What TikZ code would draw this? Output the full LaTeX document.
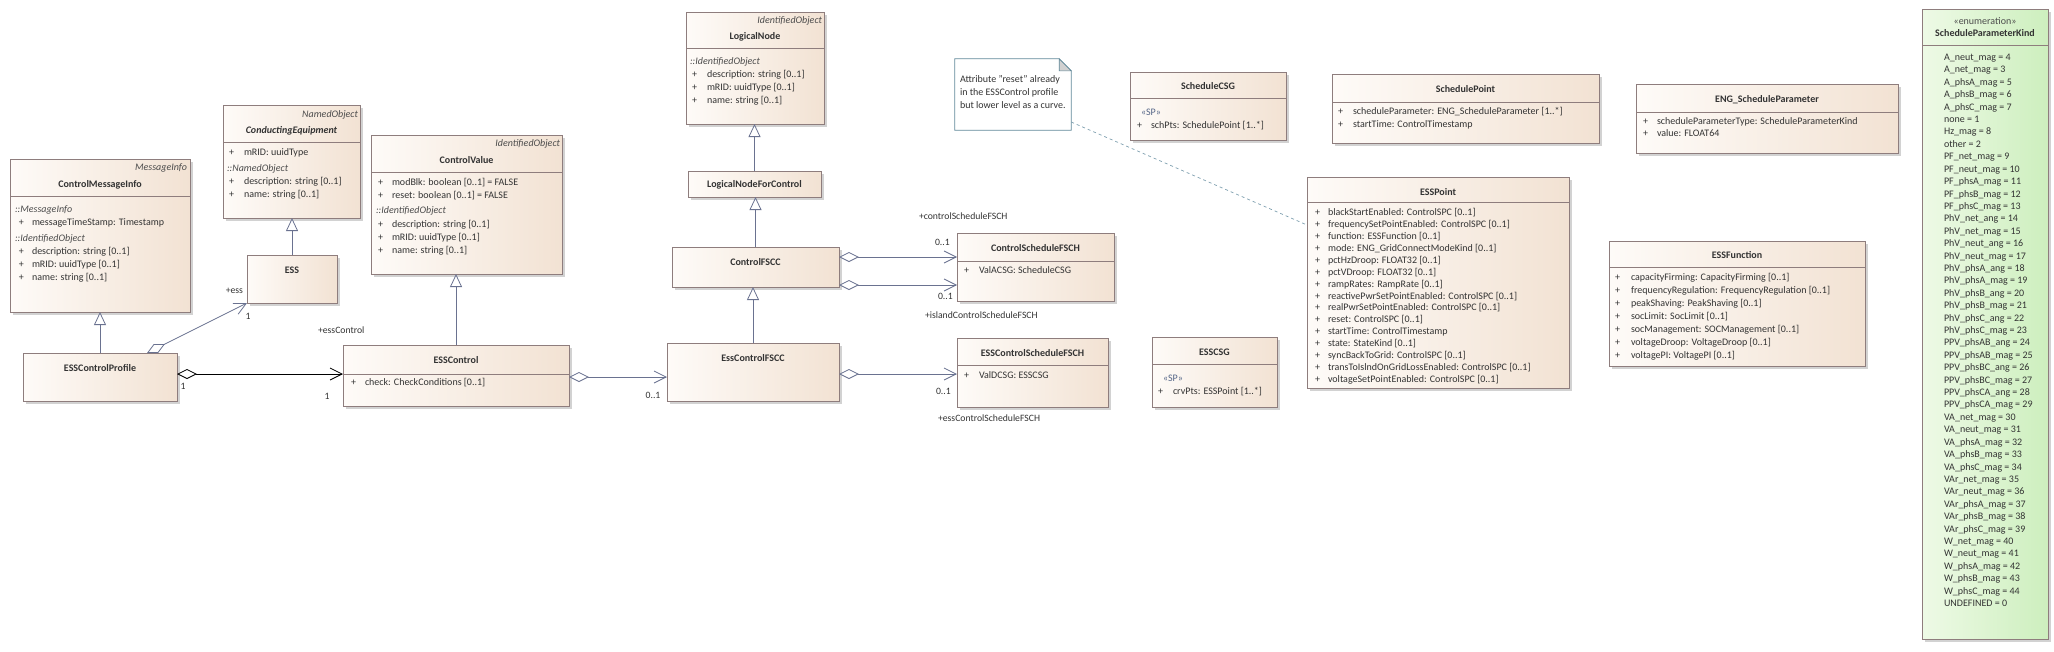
\documentclass[tikz,border=0pt]{standalone}
\usepackage{fontspec}
\setmainfont{Carlito}
\usetikzlibrary{arrows.meta,calc}
\definecolor{boxL}{HTML}{FEFBF8}
\definecolor{boxR}{HTML}{F2E2D3}
\definecolor{boxB}{HTML}{8E7D7D}
\definecolor{shad}{HTML}{D2D2D2}
\definecolor{enL}{HTML}{EEFAE6}
\definecolor{enR}{HTML}{CDEFBE}
\definecolor{txt}{HTML}{333333}
\definecolor{conn}{HTML}{6A7290}
\definecolor{noteB}{HTML}{62899A}
\definecolor{stc}{HTML}{556688}
\definecolor{dashc}{HTML}{7FA0B0}
\tikzset{
  clsbox/.style={rectangle, draw=boxB, line width=0.8pt, left color=boxL, right color=boxR, inner sep=0pt, outer sep=0pt},
  enumbox/.style={clsbox, left color=enL, right color=enR},
  tx/.style={inner sep=0pt, outer sep=0pt, font=\fontsize{10}{12}\selectfont, text=txt, text height=7pt, text depth=2pt},
  itx/.style={font=\fontsize{10}{12}\selectfont\itshape, text=black!70},
  nm/.style={font=\fontsize{10}{12}\selectfont\bfseries, anchor=center},
  lbl/.style={font=\fontsize{9.7}{12}\selectfont},
  gen/.style={draw=conn, line width=0.8pt, -{Triangle[open, length=13pt, width=12pt, fill=white]}},
  agg/.style={draw=conn, line width=0.8pt, {Diamond[open, length=20pt, width=10pt, fill=white]}-{Straight Barb[length=12pt, width=12pt]}},
  blk/.style={draw=black},
}
\newcounter{tn}
\newcommand\T[4][]{\stepcounter{tn}\node[tx,anchor=west,#1] (t\arabic{tn}) at (#2,#3) {#4};}
\newcommand\A[4]{\T{#1}{#3}{+}\T{#2}{#3}{#4}}
\newcommand\mkcls[6][clsbox]{%
  \fill[shad] (#3+3,#4+3) rectangle (#5+3,#6+3);
  \pgfmathsetmacro\cx{(#3+#5)/2}\pgfmathsetmacro\cy{(#4+#6)/2}%
  \pgfmathsetmacro\cw{#5-#3}\pgfmathsetmacro\ch{#6-#4}%
  \node[#1, minimum width=\cw pt, minimum height=\ch pt] (#2) at (\cx,\cy) {};}
\newcommand\sepl[3]{\draw[boxB, line width=0.8pt] (#1,#3) -- (#2,#3);}
\begin{document}
\begin{tikzpicture}[x=1pt,y=-1pt]
\useasboundingbox[fill=white] (0,0) rectangle (2054,651);

% ---------- ControlMessageInfo
\mkcls{cmi}{10}{159}{190}{312}
\sepl{10}{190}{196}
\T[anchor=east,itx]{187}{168}{MessageInfo}
\T[nm]{100}{185}{ControlMessageInfo}
\T[itx]{15}{210}{::MessageInfo}
\A{19}{32}{223}{messageTimeStamp: Timestamp}
\T[itx]{15}{239}{::IdentifiedObject}
\A{19}{32}{252}{description: string [0..1]}
\A{19}{32}{265}{mRID: uuidType [0..1]}
\A{19}{32}{278}{name: string [0..1]}

% ---------- ESSControlProfile
\mkcls{ecp}{23}{353}{177}{401}
\T[nm]{100}{369}{ESSControlProfile}

% ---------- ESS
\mkcls{ess}{247}{255}{337}{303}
\T[nm]{292}{271}{ESS}

% ---------- ConductingEquipment
\mkcls{ce}{223}{105}{360}{218}
\sepl{223}{360}{142}
\T[anchor=east,itx]{358}{115}{NamedObject}
\T[nm,font=\fontsize{10}{12}\selectfont\bfseries\itshape]{291.5}{131}{ConductingEquipment}
\A{229}{244}{153}{mRID: uuidType}
\T[itx]{227}{169}{::NamedObject}
\A{229}{244}{182}{description: string [0..1]}
\A{229}{244}{195}{name: string [0..1]}

% ---------- ControlValue
\mkcls{cv}{371}{135}{562}{274}
\sepl{371}{562}{172}
\T[anchor=east,itx]{560}{144}{IdentifiedObject}
\T[nm]{466.5}{161}{ControlValue}
\A{378}{392}{183}{modBlk: boolean [0..1] = FALSE}
\A{378}{392}{196}{reset: boolean [0..1] = FALSE}
\T[itx]{376}{211}{::IdentifiedObject}
\A{378}{392}{225}{description: string [0..1]}
\A{378}{392}{238}{mRID: uuidType [0..1]}
\A{378}{392}{251}{name: string [0..1]}

% ---------- ESSControl
\mkcls{ec}{343}{345}{569}{406}
\sepl{343}{569}{374}
\T[nm]{456}{361}{ESSControl}
\A{351}{365}{383}{check: CheckConditions [0..1]}

% ---------- LogicalNode
\mkcls{ln}{686}{12}{824}{124}
\sepl{686}{824}{48}
\T[anchor=east,itx]{822}{21}{IdentifiedObject}
\T[nm]{755}{37}{LogicalNode}
\T[itx]{690}{62}{::IdentifiedObject}
\A{692}{707}{75}{description: string [0..1]}
\A{692}{707}{88}{mRID: uuidType [0..1]}
\A{692}{707}{101}{name: string [0..1]}

% ---------- LogicalNodeForControl
\mkcls{lnfc}{688}{171}{821}{197}
\T[nm]{754.5}{185}{LogicalNodeForControl}

% ---------- ControlFSCC
\mkcls{cfscc}{672}{247}{839}{287}
\T[nm]{755.5}{263}{ControlFSCC}

% ---------- EssControlFSCC
\mkcls{efscc}{667}{343}{839}{401}
\T[nm]{753}{359}{EssControlFSCC}

% ---------- ControlScheduleFSCH
\mkcls{csf}{957}{233}{1114}{301}
\sepl{957}{1114}{261}
\T[nm]{1035.5}{249}{ControlScheduleFSCH}
\A{964}{979}{271}{ValACSG: ScheduleCSG}

% ---------- ESSControlScheduleFSCH
\mkcls{ecsf}{957}{338}{1108}{407}
\sepl{957}{1108}{365}
\T[nm]{1032.5}{354}{ESSControlScheduleFSCH}
\A{964}{979}{376}{ValDCSG: ESSCSG}

% ---------- Note
\node[minimum width=116pt, minimum height=71pt, inner sep=0pt] (note) at (1013,94.5) {};
\draw[noteB, line width=0.8pt, fill=white] (note.north west) -- ([xshift=-12pt]note.north east) -- ([yshift=-12pt]note.north east) -- (note.south east) -- (note.south west) -- cycle;
\draw[noteB, line width=0.6pt, fill=black!18] ([xshift=-12pt]note.north east) -- ([xshift=-12pt,yshift=-12pt]note.north east) -- ([yshift=-12pt]note.north east) -- cycle;
\T{960}{80}{Attribute "reset" already}
\T{960}{93}{in the ESSControl profile}
\T{960}{106}{but lower level as a curve.}

% ---------- ScheduleCSG
\mkcls{scsg}{1130}{72}{1286}{140}
\sepl{1130}{1286}{98}
\T[nm]{1208}{87}{ScheduleCSG}
\T[text=stc]{1141}{113}{«SP»}
\A{1137}{1151}{126}{schPts: SchedulePoint [1..*]}

% ---------- SchedulePoint
\mkcls{sp}{1332}{74}{1599}{143}
\sepl{1332}{1599}{102}
\T[nm]{1465.5}{90}{SchedulePoint}
\A{1338}{1353}{112}{scheduleParameter: ENG\_ScheduleParameter [1..*]}
\A{1338}{1353}{125}{startTime: ControlTimestamp}

% ---------- ESSPoint
\mkcls{ep}{1307}{177}{1569}{388}
\sepl{1307}{1569}{202}
\T[nm]{1438}{193}{ESSPoint}
\foreach \s [count=\i from 0] in {{blackStartEnabled: ControlSPC [0..1]},{frequencySetPointEnabled: ControlSPC [0..1]},{function: ESSFunction [0..1]},{mode: ENG\_GridConnectModeKind [0..1]},{pctHzDroop: FLOAT32 [0..1]},{pctVDroop: FLOAT32 [0..1]},{rampRates: RampRate [0..1]},{reactivePwrSetPointEnabled: ControlSPC [0..1]},{realPwrSetPointEnabled: ControlSPC [0..1]},{reset: ControlSPC [0..1]},{startTime: ControlTimestamp},{state: StateKind [0..1]},{syncBackToGrid: ControlSPC [0..1]},{transToIslndOnGridLossEnabled: ControlSPC [0..1]},{voltageSetPointEnabled: ControlSPC [0..1]}}{
  \pgfmathsetmacro\yy{213+11.93*\i}
  \node[tx,anchor=west] (epp\i) at (1315,\yy) {+};
  \node[tx,anchor=west] (epr\i) at (1328,\yy) {\s};
}

% ---------- ESSCSG
\mkcls{ecsg}{1152}{337}{1277}{407}
\sepl{1152}{1277}{364}
\T[nm]{1214.5}{353}{ESSCSG}
\T[text=stc]{1163}{379}{«SP»}
\A{1158}{1173}{392}{crvPts: ESSPoint [1..*]}

% ---------- ENG_ScheduleParameter
\mkcls{esp}{1636}{84}{1898}{153}
\sepl{1636}{1898}{112}
\T[nm]{1767}{100}{ENG\_ScheduleParameter}
\A{1643}{1657}{122}{scheduleParameterType: ScheduleParameterKind}
\A{1643}{1657}{134}{value: FLOAT64}

% ---------- ESSFunction
\mkcls{ef}{1609}{241}{1865}{366}
\sepl{1609}{1865}{267}
\T[nm]{1737}{256}{ESSFunction}
\foreach \s [count=\i from 0] in {{capacityFirming: CapacityFirming [0..1]},{frequencyRegulation: FrequencyRegulation [0..1]},{peakShaving: PeakShaving [0..1]},{socLimit: SocLimit [0..1]},{socManagement: SOCManagement [0..1]},{voltageDroop: VoltageDroop [0..1]},{voltagePI: VoltagePI [0..1]}}{
  \pgfmathsetmacro\yy{278+12.95*\i}
  \node[tx,anchor=west] (efp\i) at (1615,\yy) {+};
  \node[tx,anchor=west] (efr\i) at (1631,\yy) {\s};
}

% ---------- ScheduleParameterKind
\mkcls[enumbox]{spk}{1922}{9}{2048}{639}
\sepl{1922}{2048}{45}
\T[anchor=center,text=black!70]{1985}{22}{«enumeration»}
\T[nm]{1985}{34}{ScheduleParameterKind}
\foreach \s [count=\i from 0] in {{A\_neut\_mag = 4},{A\_net\_mag = 3},{A\_phsA\_mag = 5},{A\_phsB\_mag = 6},{A\_phsC\_mag = 7},{none = 1},{Hz\_mag = 8},{other = 2},{PF\_net\_mag = 9},{PF\_neut\_mag = 10},{PF\_phsA\_mag = 11},{PF\_phsB\_mag = 12},{PF\_phsC\_mag = 13},{PhV\_net\_ang = 14},{PhV\_net\_mag = 15},{PhV\_neut\_ang = 16},{PhV\_neut\_mag = 17},{PhV\_phsA\_ang = 18},{PhV\_phsA\_mag = 19},{PhV\_phsB\_ang = 20},{PhV\_phsB\_mag = 21},{PhV\_phsC\_ang = 22},{PhV\_phsC\_mag = 23},{PPV\_phsAB\_ang = 24},{PPV\_phsAB\_mag = 25},{PPV\_phsBC\_ang = 26},{PPV\_phsBC\_mag = 27},{PPV\_phsCA\_ang = 28},{PPV\_phsCA\_mag = 29},{VA\_net\_mag = 30},{VA\_neut\_mag = 31},{VA\_phsA\_mag = 32},{VA\_phsB\_mag = 33},{VA\_phsC\_mag = 34},{VAr\_net\_mag = 35},{VAr\_neut\_mag = 36},{VAr\_phsA\_mag = 37},{VAr\_phsB\_mag = 38},{VAr\_phsC\_mag = 39},{W\_net\_mag = 40},{W\_neut\_mag = 41},{W\_phsA\_mag = 42},{W\_phsB\_mag = 43},{W\_phsC\_mag = 44},{UNDEFINED = 0}}{
  \pgfmathsetmacro\yy{58+12.41*\i}
  \node[tx,anchor=west] (spk\i) at (1944,\yy) {\s};
}

% ---------- helper coordinates
\coordinate (h374) at (0,374);
\coordinate (h377) at (0,377);
\coordinate (h257) at (0,257);
\coordinate (h285) at (0,285);
\coordinate (h122) at (0,122);
\coordinate (h225) at (0,225);
\coordinate (v147) at (147,0);

% ---------- generalizations
\draw[gen] (ecp.north) -- (ecp.north |- cmi.south);
\draw[gen] (ess.north) -- (ess.north |- ce.south);
\draw[gen] (ec.north) -- (ec.north |- cv.south);
\draw[gen] (lnfc.north) -- (lnfc.north |- ln.south);
\draw[gen] (cfscc.north) -- (cfscc.north |- lnfc.south);
\draw[gen] (efscc.north) -- (efscc.north |- cfscc.south);

% ---------- aggregations
\draw[agg,blk] (ecp.east |- h374) -- (ec.west |- h374);
\draw[agg] (ecp.north -| v147) -- (ess.south west);
\draw[agg] (ec.east |- h377) -- (efscc.west |- h377);
\draw[agg] (cfscc.east |- h257) -- (csf.west |- h257);
\draw[agg] (cfscc.east |- h285) -- (csf.west |- h285);
\draw[agg] (efscc.east |- h374) -- (ecsf.west |- h374);
\draw[dashc, dashed, line width=0.7pt] (note.east |- h122) -- (ep.west |- h225);

% ---------- connector labels
\T[lbl,anchor=east]{243}{291}{+ess}
\T[lbl,anchor=center]{248}{317}{1}
\T[lbl]{318}{331}{+essControl}
\T[lbl,anchor=center]{183}{387}{1}
\T[lbl,anchor=center]{327}{397}{1}
\T[lbl,anchor=center]{653}{396}{0..1}
\T[lbl]{919}{217}{+controlScheduleFSCH}
\T[lbl]{935}{243}{0..1}
\T[lbl]{938}{297}{0..1}
\T[lbl]{925}{316}{+islandControlScheduleFSCH}
\T[lbl]{936}{392}{0..1}
\T[lbl]{938}{419}{+essControlScheduleFSCH}
\end{tikzpicture}
\end{document}
